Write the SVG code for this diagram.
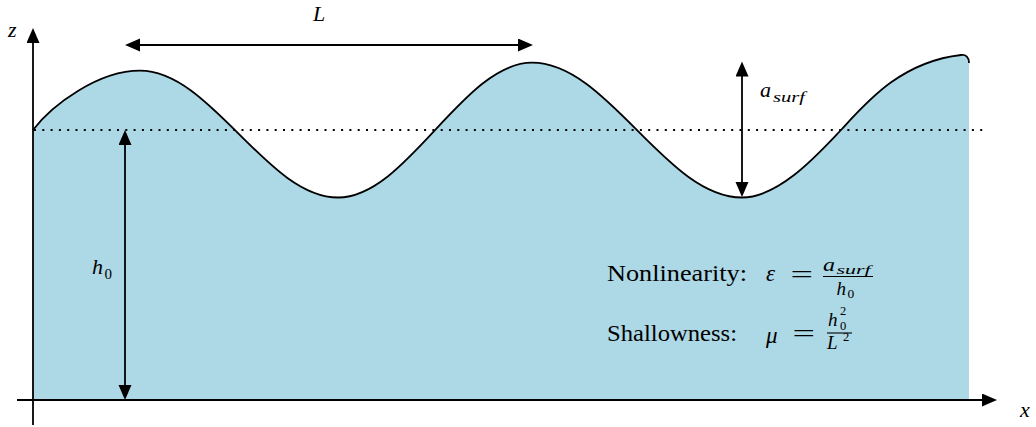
<svg xmlns="http://www.w3.org/2000/svg" width="1036" height="427" viewBox="0 0 1036 427">
  <style>
    .ln { stroke: #000; stroke-width: 1.8; fill: none; }
    .dim { stroke: #000; stroke-width: 1.8; fill: none; marker-start: url(#ah); marker-end: url(#ah); }
    .ax { stroke: #000; stroke-width: 1.8; fill: none; marker-end: url(#ah); }
    .mi { font-family: "Liberation Serif", "DejaVu Serif", serif; font-style: italic; fill: #000; }
    .rm { font-family: "Liberation Serif", "DejaVu Serif", serif; fill: #000; }
  </style>
  <defs>
    <marker id="ah" markerUnits="userSpaceOnUse" markerWidth="18" markerHeight="14" refX="7" refY="6.5" orient="auto-start-reverse" viewBox="0 0 18 14">
      <path d="M0,0 L15,6.5 L0,13 Z" fill="#000"/>
    </marker>
  </defs>

  <rect width="1036" height="427" fill="#fff"/>

  <g id="water">
    <path fill="#ADD8E6" stroke="none" d="M33,130 C52,105 98,70.7 140,70.7 C211,70.7 267,197.5 338,197.5 C407,197.5 463,62.7 532,62.7 C608,62.7 666,197.5 742,197.5 C780,197.5 820,152 841,130 C866,103 900,62 961,55 C966,54.5 969,57 969,63 L969,400 L33,400 Z"/>
    <path class="ln" d="M33,130 C52,105 98,70.7 140,70.7 C211,70.7 267,197.5 338,197.5 C407,197.5 463,62.7 532,62.7 C608,62.7 666,197.5 742,197.5 C780,197.5 820,152 841,130 C866,103 900,62 961,55 C966,54.5 969,57 969,63"/>
  </g>

  <g id="still-level">
    <line x1="34" y1="130" x2="984" y2="130" stroke="#000" stroke-width="2" stroke-dasharray="2 6.3"/>
  </g>

  <g id="axes">
    <line id="x-axis" class="ax" x1="17" y1="400" x2="989" y2="400"/>
    <line id="z-axis" class="ax" x1="33" y1="425" x2="33" y2="36"/>
    <text class="mi" x="8" y="37" font-size="22">z</text>
    <text class="mi" x="1020" y="417" font-size="22">x</text>
  </g>

  <g id="connectors">
    <line id="dim-L" class="dim" x1="133" y1="45" x2="525" y2="45"/>
    <line id="dim-h0" class="dim" x1="125" y1="138" x2="125" y2="392"/>
    <line id="dim-asurf" class="dim" x1="742" y1="69.5" x2="742" y2="189"/>
  </g>

  <g id="label-L">
    <text class="mi" x="313" y="21" font-size="22">L</text>
  </g>
  <g id="label-h0">
    <text class="mi" x="92" y="273.5" font-size="22">h</text>
    <text class="rm" x="104.5" y="278.5" font-size="15">0</text>
  </g>
  <g id="label-asurf">
    <text class="mi" x="760" y="97" font-size="22">a</text>
    <text class="mi" x="773" y="101.5" font-size="15" textLength="32" lengthAdjust="spacingAndGlyphs">surf</text>
  </g>

  <g id="nonlinearity">
    <text class="rm" x="607" y="280.5" font-size="22.5" textLength="140" lengthAdjust="spacingAndGlyphs">Nonlinearity:</text>
    <text class="mi" x="766" y="280.5" font-size="23">ε</text>
    <text class="rm" x="790.5" y="282" font-size="23" textLength="22.5" lengthAdjust="spacingAndGlyphs">=</text>
    <text class="mi" x="823" y="270.5" font-size="19" textLength="12" lengthAdjust="spacingAndGlyphs">a</text>
    <text class="mi" x="836.5" y="273.5" font-size="13.5" textLength="34" lengthAdjust="spacingAndGlyphs">surf</text>
    <line x1="823" y1="276.5" x2="873" y2="276.5" stroke="#000" stroke-width="1.1"/>
    <text class="mi" x="836.5" y="295" font-size="19">h</text>
    <text class="rm" x="847.5" y="297.5" font-size="13.5">0</text>
  </g>

  <g id="shallowness">
    <text class="rm" x="607" y="341" font-size="22.5" textLength="130" lengthAdjust="spacingAndGlyphs">Shallowness:</text>
    <text class="mi" x="766" y="342.5" font-size="23">μ</text>
    <text class="rm" x="792.5" y="341" font-size="23" textLength="22.5" lengthAdjust="spacingAndGlyphs">=</text>
    <text class="mi" x="828" y="326" font-size="19">h</text>
    <text class="rm" x="840" y="314.5" font-size="12.5">2</text>
    <text class="rm" x="840" y="329.5" font-size="12.5">0</text>
    <line x1="827" y1="333" x2="852" y2="333" stroke="#000" stroke-width="1.1"/>
    <text class="mi" x="827" y="349" font-size="19">L</text>
    <text class="rm" x="843" y="341" font-size="12.5">2</text>
  </g>
</svg>
